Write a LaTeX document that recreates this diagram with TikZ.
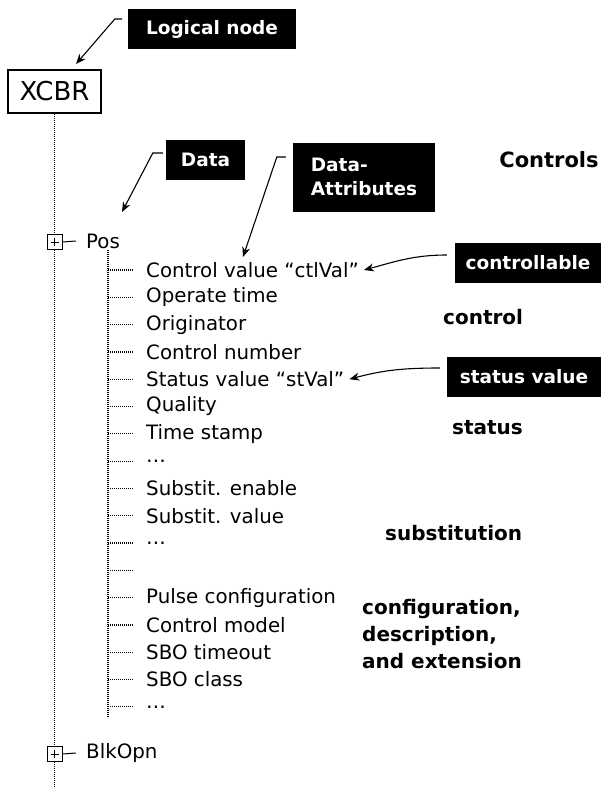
\documentclass[tikz,border=0pt]{standalone}
\usepackage{fontspec}
\setmainfont{DejaVu Sans}
\usetikzlibrary{arrows.meta}

\tikzset{
  lbl/.style={fill=black, text=white, font=\bfseries\fontsize{18.5}{24}\selectfont, inner sep=0pt, minimum height=40pt},
  item/.style={anchor=west, inner sep=0pt, font=\fontsize{19.8}{22}\selectfont},
  grp/.style={anchor=west, inner sep=0pt, font=\bfseries\fontsize{20}{27}\selectfont, align=left},
  tree/.style={dash pattern=on 1pt off 1pt, line width=1.2pt},
  ptr/.style={-{Stealth[length=10pt,width=8pt]}, line width=1.1pt},
  plusbox/.style={draw, fill=white, line width=1pt, minimum size=15pt, inner sep=0pt,
    path picture={\draw (path picture bounding box.center) +(-4pt,0) -- +(4pt,0) +(0,-4pt) -- +(0,4pt);}},
}

\begin{document}
\begin{tikzpicture}[x=1pt,y=-1pt]
        \useasboundingbox (0,0) rectangle (602,788);

        % logical node
        \node[draw, line width=1.5pt, minimum width=93pt, minimum height=43pt, inner sep=0pt, font=\fontsize{26}{28}\selectfont] (xcbr) at (54.5,91.5) {XCBR};
        \node[lbl, minimum width=168pt] (ln) at (212,29) {Logical node};
        \coordinate (lntip) at (76,64);
        \draw[ptr] ([xshift=-6pt,yshift=10pt]ln.west) -- ++(-7,0) -- (lntip);
        \coordinate (bottom) at (54.5,788);
        \draw[tree] (xcbr.south) -- (bottom);

        % data objects
        \node[plusbox] (posbox) at (54.5,242) {};
        \node[item] (pos) at (86,241) {Pos};
        \draw[line width=1pt] (posbox.east) -- ([xshift=-10pt]pos.west);
        \node[plusbox] (blkbox) at (54.5,754) {};
        \node[item] (blk) at (86,753) {BlkOpn};
        \draw[line width=1pt] (blkbox.east) -- ([xshift=-10pt]blk.west);

        % data attributes
        \coordinate (subtop) at (108,250);
        \coordinate (subbot) at (108,718);
        \draw[tree] (subtop) -- (subbot);
        \foreach \txt [count=\i] in {Control value “ctlVal”, Operate time, Originator, Control number,
            Status value “stVal”, Quality, Time stamp, {\ldots}, Substit. enable, Substit. value, {\ldots}, {},
            Pulse configuration, Control model, SBO timeout, SBO class, {\ldots}} {
            \pgfmathsetmacro\yy{270+(\i-1)*27.3}
            \coordinate (t\i) at (108,\yy);
            \node[item] (a\i) at (146,\yy) {\txt};
            \draw[tree] (t\i) -- ++(26,0);
        }

        % labels
        \node[lbl, minimum width=79pt] (data) at (205.5,160) {Data};
        \coordinate (datatip) at (122,212);
        \draw[ptr] ([xshift=-3pt,yshift=7pt]data.west) -- ++(-10,0) -- (datatip);
        \node[lbl, minimum width=142pt, minimum height=69pt, align=left] (da) at (364,177) {Data-\\Attributes};
        \coordinate (datip) at (243,257);
        \draw[ptr] ([xshift=-7pt,yshift=20pt]da.west) -- ++(-9,0) -- (datip);
        \node[lbl, minimum width=146pt] (cbl) at (528,263) {controllable};
        \draw[ptr] ([xshift=-8pt,yshift=8pt]cbl.west) to[out=180,in=15] ([xshift=5pt]a1.east);
        \node[lbl, minimum width=154pt] (sv) at (524,377) {status value};
        \draw[ptr] ([xshift=-7pt,yshift=9pt]sv.west) to[out=180,in=15] ([xshift=5pt]a5.east);

        % groups
        \node[font=\bfseries\fontsize{21}{24}\selectfont] (controls) at (549,160) {Controls};
        \node[grp] (gctl) at (443,317) {control};
        \node[grp] (gst) at (452,428) {status};
        \node[grp] (gsub) at (385,533) {substitution};
        \node[grp] (gcfg) at (362,634) {configuration,\\description,\\and extension};
\end{tikzpicture}
\end{document}
